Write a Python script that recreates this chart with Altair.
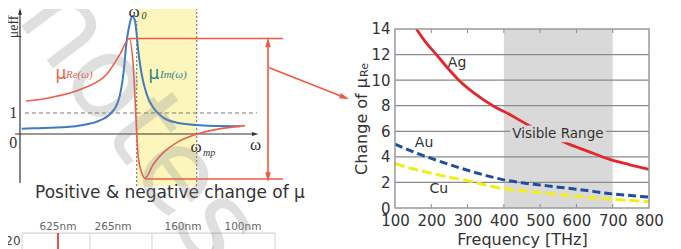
import altair as alt
import pandas as pd

# ================= Right panel data =================
ag_freq = [159, 185, 214, 245, 276, 320, 370, 420, 469, 520, 570, 630, 690, 745, 800]
ag_val = [14.0, 12.95, 12.0, 10.95, 10.0, 8.95, 8.0, 7.25, 6.45, 5.75, 5.1, 4.45, 3.82, 3.4, 3.02]
std_freq = [100, 150, 200, 250, 300, 350, 400, 450, 500, 550, 600, 650, 700, 750, 800]
au_val = [5.0, 4.4, 3.88, 3.4, 2.95, 2.55, 2.2, 1.97, 1.8, 1.63, 1.47, 1.28, 1.1, 0.97, 0.85]
cu_val = [3.48, 3.05, 2.72, 2.4, 2.14, 1.8, 1.5, 1.36, 1.2, 1.05, 0.92, 0.8, 0.68, 0.58, 0.5]
visible_range = [400, 700]
x_ticks = [100, 200, 300, 400, 500, 600, 700, 800]
y_ticks = [0, 2, 4, 6, 8, 10, 12, 14]
grid_vals = [2, 4, 6, 8, 10, 12]
inner_ticks = [200, 300, 400, 500, 600, 700]
curve_labels = ["Ag", "Au", "Cu"]
curve_label_x = [271, 180, 221]
curve_label_y = [11.34, 5.08, 1.49]
band_label = ["Visible Range"]
band_label_x = [549]
band_label_y = [5.8]
band_box = [417, 681, 5.15, 6.45]

# ================= Left panel (schematic) data =================
# omega in units of omega_0, mu in arbitrary units
im_w = [0.015, 0.115, 0.413, 0.558, 0.708, 0.796, 0.870, 0.916, 0.944, 0.973, 0.994,
        1.018, 1.047, 1.077, 1.121, 1.180, 1.268, 1.387, 1.564, 1.741, 1.947]
im_mu = [0.25, 0.27, 0.33, 0.43, 0.65, 0.94, 1.57, 2.90, 4.43, 5.30, 5.62,
         5.38, 3.95, 2.84, 1.89, 1.25, 0.78, 0.54, 0.43, 0.38, 0.37]
re_w = [0.053, 0.265, 0.560, 0.767, 0.885, 0.967, 1.003, 1.018, 1.033, 1.047, 1.077,
        1.106, 1.180, 1.268, 1.387, 1.564, 1.741, 1.991]
re_mu = [1.57, 1.73, 2.18, 2.84, 3.80, 4.55, 3.16, 1.73, -0.01, -1.13, -1.84,
         -2.10, -1.44, -0.89, -0.41, -0.01, 0.22, 0.40]
w0_wmp = [1.033, 1.564]
band_mu = [-2.48, 5.95]
dot_top = [5.38, 5.95]
unity = [0.044, 2.097, 1.0]
axis_y_line = [0.0, 0.0, -2.33, 5.75]
axis_x_line = [-0.044, 2.06, 0.0, 0.0]
red_seg_x = [0.967, 1.106, 2.195, 2.206]
red_seg_x2 = [2.327, 2.327, 2.195, 2.85]
red_seg_y = [4.55, -2.14, 4.2, 3.16]
red_seg_y2 = [4.55, -2.14, -1.9, 1.79]
red_head_x = [2.195, 2.195, 2.862]
red_head_y = [4.3, -2.0, 1.76]
red_head_ang = [0, 180, 112]
ax_head_x = [0.0, 2.075]
ax_head_y = [5.8, 0.0]
ax_head_ang = [0, 90]
wl_labels = ["625nm", "265nm", "160nm", "100nm"]
wl_x = [0.336, 0.823, 1.442, 1.973]
wl_grid = [0.018, 0.619, 1.168, 1.708, 2.257]

# ================= Right panel =================
FONT = "DejaVu Sans"
W2, H2 = 254, 199          # top 20 px of the view left empty
TOP = 15.564               # value at the very top of the view (14 sits 20 px lower)
xs = alt.Scale(domain=[100, 800], nice=False, zero=False)
ys = alt.Scale(domain=[0, TOP], nice=False, zero=False)
x_axis = alt.Axis(values=x_ticks, title="Frequency [THz]", labelFont=FONT, labelFontSize=15,
                  labelColor="#333", titleFont=FONT, titleFontSize=16, titleFontWeight="normal",
                  titleColor="#333", ticks=False, domain=False, grid=False, labelPadding=5,
                  titlePadding=3, labelFlush=False)
y_axis = alt.Axis(values=y_ticks, title="Change of μ", labelFont=FONT, labelFontSize=15,
                  labelColor="#333", titleFont=FONT, titleFontSize=16, titleFontWeight="normal",
                  titleColor="#333", ticks=False, domain=False, grid=False, labelPadding=5,
                  titlePadding=1, labelFlush=False, titleY=117)


def RX(f):
    return alt.X(f, type="quantitative", scale=xs, axis=x_axis)


def RY(f):
    return alt.Y(f, type="quantitative", scale=ys, axis=y_axis)


band_df = pd.DataFrame({"x0": [visible_range[0]], "x1": [visible_range[1]],
                        "y0": [y_ticks[0]], "y1": [y_ticks[-1]]})
band = alt.Chart(band_df).mark_rect(color="#d9d9d9").encode(
    x=RX("x0"), x2="x1", y=RY("y0"), y2="y1")

grid = alt.Chart(pd.DataFrame({"v": grid_vals})).mark_rule(color="#8a8a8a", strokeWidth=1.3).encode(
    y=RY("v"), x=alt.value(0), x2=alt.value(W2))

tick_df = pd.DataFrame({"f": inner_ticks, "b0": [0] * 6, "b1": [0.31] * 6,
                        "t0": [14] * 6, "t1": [13.69] * 6})
ticks_b = alt.Chart(tick_df).mark_rule(color="#888", strokeWidth=1).encode(
    x=RX("f"), y=RY("b0"), y2="b1")
ticks_t = alt.Chart(tick_df).mark_rule(color="#888", strokeWidth=1).encode(
    x=RX("f"), y=RY("t0"), y2="t1")


def curve(f, v, **kw):
    return alt.Chart(pd.DataFrame({"f": f, "v": v})).mark_line(interpolate="monotone", **kw).encode(
        x=RX("f"), y=RY("v"))


cu_line = curve(std_freq, cu_val, color="#f2ee1c", strokeWidth=3, strokeDash=[10, 4])
au_line = curve(std_freq, au_val, color="#1f4f9c", strokeWidth=3, strokeDash=[8, 4])
ag_line = curve(ag_freq, ag_val, color="#e3262b", strokeWidth=2.8)

box_df = pd.DataFrame({"a": [band_box[0]], "b": [band_box[1]], "c": [band_box[2]], "d": [band_box[3]]})
label_box = alt.Chart(box_df).mark_rect(color="#d9d9d9").encode(
    x=RX("a"), x2="b", y=RY("c"), y2="d")

lab_df = pd.DataFrame({"f": curve_label_x, "v": curve_label_y, "t": curve_labels})
labels = alt.Chart(lab_df).mark_text(font=FONT, fontSize=14, color="#333").encode(
    x=RX("f"), y=RY("v"), text="t:N")
vis_df = pd.DataFrame({"f": band_label_x, "v": band_label_y, "t": band_label})
vis_label = alt.Chart(vis_df).mark_text(font=FONT, fontSize=13.5, color="#333").encode(
    x=RX("f"), y=RY("v"), text="t:N")

# subscript "Re" of the y-axis title
sub_df = pd.DataFrame({"t": ["Re"]})
title_sub = alt.Chart(sub_df).mark_text(font=FONT, fontSize=11, color="#333", angle=270).encode(
    x=alt.value(-30), y=alt.value(61), text="t:N")

frame_df = pd.DataFrame({"x0": [x_ticks[0]], "x1": [x_ticks[-1]], "y0": [y_ticks[0]], "y1": [y_ticks[-1]]})
frame = alt.Chart(frame_df).mark_rect(fillOpacity=0, stroke="#999", strokeWidth=1.5).encode(
    x=RX("x0"), x2="x1", y=RY("y0"), y2="y1")

right = alt.layer(band, grid, ticks_b, ticks_t, cu_line, au_line, ag_line, label_box,
                  labels, vis_label, title_sub, frame).properties(width=W2, height=H2)

# ================= Left panel =================
W1, H1 = 340, 240
lx = alt.Scale(domain=[-0.1062, 2.9027], nice=False, zero=False)
ly = alt.Scale(domain=[-5.476, 5.952], nice=False, zero=False)


def X(f):
    return alt.X(f, type="quantitative", scale=lx, axis=None)


def Y(f):
    return alt.Y(f, type="quantitative", scale=ly, axis=None)


def rules(xa, xb, ya, yb, **kw):
    df = pd.DataFrame({"x": xa, "x2": xb, "y": ya, "y2": yb})
    return alt.Chart(df).mark_rule(**kw).encode(x=X("x"), x2="x2", y=Y("y"), y2="y2")


def texts(xv, yv, tv, **kw):
    df = pd.DataFrame({"x": xv, "y": yv, "t": tv})
    return alt.Chart(df).mark_text(clip=True, **kw).encode(x=X("x"), y=Y("y"), text="t:N")


ARROW = "M0,-1L0.45,0.6L-0.45,0.6Z"


def heads(xv, yv, ang, color, size):
    df = pd.DataFrame({"x": xv, "y": yv, "a": ang})
    return alt.Chart(df).mark_point(shape=ARROW, filled=True, color=color, size=size, opacity=1).encode(
        x=X("x"), y=Y("y"), angle=alt.Angle("a:Q", scale=None))


yband = alt.Chart(pd.DataFrame({"x": [w0_wmp[0]], "x2": [w0_wmp[1]], "y": [band_mu[0]], "y2": [band_mu[1]]})
                  ).mark_rect(color="#fcf6bd").encode(x=X("x"), x2="x2", y=Y("y"), y2="y2")
dots = rules(w0_wmp, w0_wmp, [band_mu[0], band_mu[0]], dot_top, color="#666", strokeDash=[2, 2], strokeWidth=1)
unity_line = rules([unity[0]], [unity[1]], [unity[2]], [unity[2]], color="#777", strokeDash=[4, 3], strokeWidth=1)
axes = rules([axis_y_line[0], axis_x_line[0]], [axis_y_line[1], axis_x_line[1]],
             [axis_y_line[2], axis_x_line[2]], [axis_y_line[3], axis_x_line[3]], color="#333", strokeWidth=1.2)
axheads = heads(ax_head_x, ax_head_y, ax_head_ang, "#333", 70)

im_line = alt.Chart(pd.DataFrame({"w": im_w, "m": im_mu})).mark_line(
    interpolate="monotone", color="#3d7cc4", strokeWidth=2).encode(x=X("w"), y=Y("m"))
re_line = alt.Chart(pd.DataFrame({"w": re_w, "m": re_mu})).mark_line(
    interpolate="monotone", color="#ee5f48", strokeWidth=1.6).encode(x=X("w"), y=Y("m"))

red_lines = rules(red_seg_x, red_seg_x2, red_seg_y, red_seg_y2, color="#ef5a40", strokeWidth=1.6)
red_heads = heads(red_head_x, red_head_y, red_head_ang, "#ef5a40", 150)

SERIF = "Liberation Serif"
num_txt = texts([-0.06, -0.06], [1.0, -0.43], ["1", "0"], font=SERIF, fontSize=16, color="#333")
omega_txt = texts([1.009, 1.558, 2.084], [5.80, -0.62, -0.52], ["ω", "ω", "ω"],
                  font=SERIF, fontSize=17, color="#333")
sub_txt = texts([1.075, 1.619], [5.62, -0.90], ["0", "mp"], font=SERIF, fontSize=10,
                fontStyle="italic", color="#333", align="left")
mueff = texts([-0.05], [5.1], ["μeff"], font=SERIF, fontSize=14, angle=270, color="#333")
mu_re = texts([0.363], [2.85], ["μ"], font=FONT, fontSize=17, color="#ee5f48")
mu_re_s = texts([0.407], [2.80], ["Re(ω)"], font=SERIF, fontSize=11, fontStyle="italic",
                color="#ee5f48", align="left")
mu_im = texts([1.186], [2.85], ["μ"], font=FONT, fontSize=17, color="#2f8585")
mu_im_s = texts([1.239], [2.80], ["Im(ω)"], font=SERIF, fontSize=11, fontStyle="italic",
                color="#2f8585", align="left")
caption = texts([1.327], [-3.03], ["Positive & negative change of μ"], font=FONT, fontSize=17,
                color="#333", baseline="alphabetic")

# partial spectrum chart at the bottom
wl_top = rules([wl_grid[0]], [wl_grid[-1]], [-4.72], [-4.72], color="#c8c8c8", strokeWidth=1)
wl_vert = rules(wl_grid, wl_grid, [-4.72] * len(wl_grid), [-5.476] * len(wl_grid), color="#d0d0d0", strokeWidth=1)
wl_red = rules([wl_x[0]], [wl_x[0]], [-4.72], [-5.476], color="#e3262b", strokeWidth=1.6)
wl_txt = texts(wl_x, [-4.45] * 4, wl_labels, font=FONT, fontSize=10.5, color="#666")
twenty = texts([-0.062], [-5.1], ["20"], font=FONT, fontSize=12, color="#444")

watermark = texts([1.053], [0.476], ["notes"], font=FONT, fontSize=115, angle=53, color="#8a8a8a",
                  opacity=0.27, baseline="middle")

left = alt.layer(yband, dots, unity_line, axes, axheads, im_line, re_line, red_lines, red_heads,
                 num_txt, omega_txt, sub_txt, mueff, mu_re, mu_re_s, mu_im, mu_im_s, caption,
                 wl_top, wl_vert, wl_red, wl_txt, twenty, watermark).properties(width=W1, height=H1)

chart = alt.hconcat(left, right, spacing=3).properties(padding=0).configure_view(stroke=None)

chart.save("out.html", embed_options={"renderer": "svg", "actions": False})
